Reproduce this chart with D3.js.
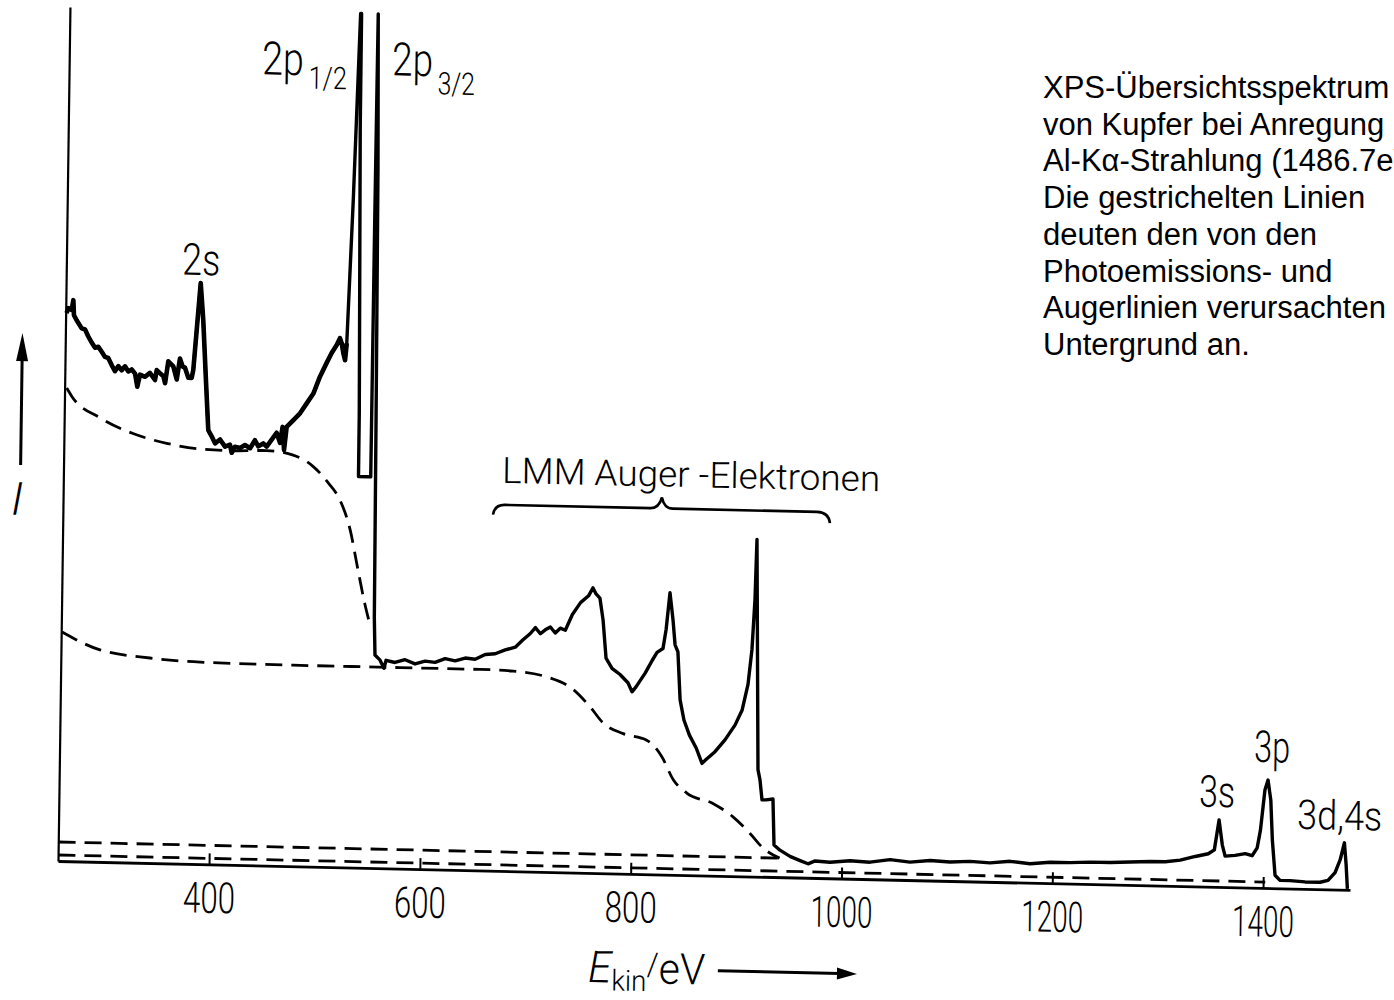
<!DOCTYPE html>
<html>
<head>
<meta charset="utf-8">
<script src="https://cdn.jsdelivr.net/npm/d3@7"></script>
<style>
  body { margin: 0; background: #fff; }
  svg { display: block; }
</style>
</head>
<body>
<svg id="chart" width="1394" height="1000"></svg>
<script>
// [kinetic energy in eV, intensity in arbitrary units]
const spectrum = [
  [257.6, 548], [259.1, 553], [262.4, 551], [263.8, 561], [264.6, 546], [267.2, 541], [272.1, 533],
  [275.3, 532], [278.5, 525], [281.8, 519], [285, 514], [288.1, 515], [291.4, 510], [294.6, 505],
  [297.7, 504], [301, 497], [304.2, 491], [307.4, 496], [310.6, 492], [313.7, 496], [316.9, 491],
  [320.1, 493], [323.3, 489], [325.6, 476], [328, 488], [332.8, 486], [337.4, 490], [342.3, 483],
  [343.8, 493], [346.9, 490], [350.2, 487], [351.9, 480], [354.7, 502], [359.5, 497], [362.9, 484],
  [365.7, 505], [368.4, 497], [370.6, 496], [373.9, 486], [377.1, 486], [378.5, 494], [384.4, 581],
  [387.3, 544], [390.8, 481], [393.5, 434], [396.8, 428], [400.1, 421], [404.8, 425], [409.6, 418],
  [414.3, 420], [416, 412], [419, 418], [423.9, 417], [428.5, 420], [433.4, 417], [437.9, 425],
  [441.2, 419], [445.9, 422], [449.1, 419], [453.8, 426], [458.4, 433], [461.7, 423], [464, 439],
  [465.6, 416], [467.8, 439], [474.1, 446], [480.3, 453], [486.5, 463], [492.7, 473], [498.7, 490],
  [504.9, 504], [509.5, 514], [514.2, 522], [517.2, 529], [518.9, 524], [520.6, 514], [522.3, 507],
  [523.7, 524], [528, 668], [532.5, 854], [533.4, 854], [533.6, 743], [536.5, 455], [536.6, 391],
  [544.7, 391], [548.2, 391], [548.6, 641], [549.2, 854], [551, 700], [552.5, 450], [553.5, 250],
  [554.6, 213], [559.5, 208], [563.3, 200], [565.2, 208], [573.7, 206], [583.2, 209], [592.7, 205],
  [602.2, 208], [611.7, 207], [621.2, 211], [630.7, 209], [640.2, 212], [649.7, 211], [659.2, 216],
  [668.6, 217], [678.1, 221], [687.6, 224], [694.3, 231], [701.7, 238], [706.4, 244], [711.2, 238],
  [715.8, 242], [720.6, 245], [725.3, 239], [730, 244], [734.8, 242], [741.3, 258], [748.9, 270],
  [756.4, 277], [760.5, 285], [763.5, 279], [767.2, 275], [770.5, 253], [773.8, 215], [779.6, 205],
  [787.3, 199], [794.9, 191], [798.9, 182], [802.6, 187], [811.1, 201], [817.7, 214], [822.1, 222],
  [827.7, 226], [830.4, 245], [833.6, 282], [836.8, 255], [839.1, 230], [841.9, 223], [844.6, 175],
  [848.5, 155], [853.9, 140], [860.6, 127], [866.2, 112], [870, 116], [878.4, 124], [887.7, 136],
  [897, 151], [903.5, 166], [908.8, 192], [912.1, 227], [914.3, 277], [915.4, 337], [919.4, 107],
  [921.4, 97], [923.6, 77], [927.4, 77], [934, 78], [935.6, 32], [941.3, 27], [950.9, 21],
  [960.5, 17], [968.1, 14], [974.8, 17], [989, 16], [1007.9, 18], [1026.9, 17], [1045.9, 20],
  [1064.8, 18], [1083.8, 20], [1102.8, 19], [1121.7, 20], [1140.7, 19], [1159.7, 21], [1178.7, 19],
  [1197.7, 21], [1216.6, 21], [1235.6, 22], [1254.6, 22], [1273.6, 23], [1292.6, 24], [1306.9, 24],
  [1321.1, 26], [1335.3, 30], [1347.6, 33], [1353.3, 37], [1357.4, 67], [1360.8, 42], [1363.6, 31],
  [1373.1, 32], [1382.6, 34], [1389.2, 32], [1393.9, 40], [1396.8, 58], [1400.5, 98], [1403.3, 108],
  [1406.2, 88], [1408.2, 48], [1411.2, 13], [1416, 8], [1425.5, 8], [1439.7, 7], [1454, 7],
  [1461.5, 9], [1468.1, 17], [1472.8, 30], [1476.6, 47], [1478.5, 25], [1480, 1]
];

// background under the 2s / 2p photoemission lines
const bgPhoto = [
  [258.7, 473], [263.5, 465], [290.7, 444], [322.2, 429], [354.2, 420], [385.9, 415], [417.2, 414],
  [449.2, 415], [474.4, 411], [493.6, 400], [508, 384], [519.4, 367], [529.3, 338], [537.3, 298],
  [544.5, 263], [549.5, 243]
];

// background under the LMM Auger lines
const bgAuger = [
  [257.5, 229], [293.7, 212], [341.2, 205], [388.8, 202], [483.6, 201], [578.5, 201], [654.4, 201],
  [686, 200], [717.8, 195], [743.1, 183], [759.3, 166], [772.1, 150], [791.1, 140], [813.4, 134],
  [827.9, 118], [839.2, 95], [852.2, 82], [877.5, 72], [896.6, 59], [912.7, 43], [925.5, 28.5],
  [935, 22], [941, 19]
];

const bgStep = [[257, 19], [941, 19]];
const bgFlat = [[257, 6], [1402, 6]];

const xTicks = [400, 600, 800, 1000, 1200, 1400];

const peakNames = ["2s", "2p", "2p", "3s", "3p", "3d,4s"];
const peakSubs = ["", "1/2", "3/2", "", "", ""];
const augerLabel = "LMM Auger -Elektronen";

const caption = [
  "XPS-Übersichtsspektrum",
  "von Kupfer bei Anregung",
  "Al-Kα-Strahlung (1486.7eV)",
  "Die gestrichelten Linien",
  "deuten den von den",
  "Photoemissions- und",
  "Augerlinien verursachten",
  "Untergrund an."
];

const FONT = "Roboto, 'DejaVu Sans', sans-serif";

const svg = d3.select("#chart");
svg.append("rect").attr("width", 1394).attr("height", 1000).attr("fill", "#fff");

const x = d3.scaleLinear().domain([256.7, 1482.5]).range([0, 1292]);
const y = d3.scaleLinear().domain([0, 854]).range([0, -854]);

// the scan is slightly skewed: baseline drops to the right, left axis leans
const plot = svg.append("g").attr("transform", "matrix(1,0.0224,-0.014,1,58,861)");

const line = d3.line().x(d => x(d[0])).y(d => y(d[1]));
const smooth = d3.line().x(d => x(d[0])).y(d => y(d[1])).curve(d3.curveMonotoneX);

// axes
const xAxis = plot.append("g")
  .call(d3.axisBottom(x).tickValues(xTicks).tickFormat(d3.format("d"))
    .tickSize(-11).tickSizeOuter(0).tickPadding(18));
xAxis.select(".domain").attr("stroke", "#000").attr("stroke-width", 2.8);
xAxis.selectAll(".tick line").attr("stroke", "#000").attr("stroke-width", 2);
xAxis.selectAll(".tick text")
  .attr("fill", "#000")
  .style("font-family", FONT)
  .style("font-weight", 300)
  .style("font-size", "43px")
  .attr("textLength", d => String(d).length === 3 ? 52 : 62)
  .attr("lengthAdjust", "spacingAndGlyphs");

const yAxis = plot.append("g")
  .call(d3.axisLeft(y).tickValues([]).tickSizeOuter(0));
yAxis.select(".domain").attr("stroke", "#000").attr("stroke-width", 2.2);

// dashed backgrounds
[bgPhoto, bgAuger].forEach(bg => {
  plot.append("path").datum(bg)
    .attr("d", smooth)
    .attr("fill", "none").attr("stroke", "#000")
    .attr("stroke-width", 2.8).attr("stroke-dasharray", "17,9");
});
[bgStep, bgFlat].forEach(bg => {
  plot.append("path").datum(bg)
    .attr("d", line)
    .attr("fill", "none").attr("stroke", "#000")
    .attr("stroke-width", 2.8).attr("stroke-dasharray", "17,9");
});

// measured spectrum; the noisy low-energy part was recorded with a heavier trace
plot.append("path").datum(spectrum)
  .attr("d", line)
  .attr("fill", "none")
  .attr("stroke", "#000")
  .attr("stroke-width", 3.4)
  .attr("stroke-linejoin", "round");
plot.append("path").datum(spectrum.filter(d => d[0] < 524))
  .attr("d", line)
  .attr("fill", "none")
  .attr("stroke", "#000")
  .attr("stroke-width", 4.6)
  .attr("stroke-linejoin", "round");

// peak labels, anchored in data units
const labelLayout = [
  { E: 384.6, I: 589, anchor: "middle", len: 38, size: 44 },
  { E: 439.7, I: 791, anchor: "start", len: 85, size: 46, subDy: 13 },
  { E: 563.1, I: 793, anchor: "start", len: 83, size: 46, subDy: 18 },
  { E: 1355.3, I: 80, anchor: "middle", len: 36, size: 44 },
  { E: 1406.8, I: 126, anchor: "middle", len: 36, size: 44 },
  { E: 1471.8, I: 60, anchor: "middle", len: 85, size: 41 }
];

peakNames.forEach((name, i) => {
  const L = labelLayout[i];
  const t = plot.append("text")
    .attr("x", x(L.E)).attr("y", y(L.I))
    .attr("text-anchor", L.anchor)
    .attr("textLength", L.len)
    .attr("lengthAdjust", "spacingAndGlyphs")
    .style("font-family", FONT).style("font-weight", 300)
    .style("font-size", L.size + "px");
  t.append("tspan").text(name);
  if (peakSubs[i]) {
    t.append("tspan").attr("dx", 6).attr("dy", L.subDy)
      .style("font-size", "31px").text(peakSubs[i]);
  }
});

// Auger label and brace
plot.append("text")
  .attr("x", x(672.8)).attr("y", y(388))
  .attr("textLength", 378).attr("lengthAdjust", "spacingAndGlyphs")
  .style("font-family", FONT).style("font-weight", 300).style("font-size", "36px")
  .text(augerLabel);

const brace = d3.path();
brace.moveTo(x(664.7), y(356));
brace.quadraticCurveTo(x(666), y(366), x(676), y(366));
brace.lineTo(x(814), y(366));
brace.quadraticCurveTo(x(822), y(366), x(824.7), y(377));
brace.quadraticCurveTo(x(827), y(366), x(835), y(366));
brace.lineTo(x(972), y(366));
brace.quadraticCurveTo(x(983), y(366), x(984.4), y(355));
plot.append("path").attr("d", brace.toString())
  .attr("fill", "none").attr("stroke", "#000").attr("stroke-width", 2.6);

// intensity arrow and symbol
plot.append("line")
  .attr("x1", x(216)).attr("y1", y(395))
  .attr("x2", x(216)).attr("y2", y(505))
  .attr("stroke", "#000").attr("stroke-width", 3);
plot.append("path")
  .attr("d", `M${x(216)},${y(527)}L${x(216) - 6},${y(499)}L${x(216) + 6},${y(499)}Z`)
  .attr("fill", "#000");
plot.append("text")
  .attr("x", x(213.2)).attr("y", y(345))
  .attr("text-anchor", "middle")
  .style("font-family", FONT).style("font-style", "italic").style("font-weight", 300)
  .style("font-size", "46px")
  .text("I");

// x-axis title and arrow
const xt = plot.append("text")
  .attr("x", x(761.1)).attr("y", y(-109))
  .attr("textLength", 117).attr("lengthAdjust", "spacingAndGlyphs")
  .style("font-family", FONT).style("font-weight", 300).style("font-size", "44px");
xt.append("tspan").style("font-style", "italic").text("E");
xt.append("tspan").attr("dy", 8).style("font-size", "29px").text("kin");
xt.append("tspan").attr("dy", -16).style("font-size", "32px").text("/");
xt.append("tspan").attr("dy", 8).style("font-size", "43px").text("eV");

plot.append("line")
  .attr("x1", x(884)).attr("y1", y(-95))
  .attr("x2", x(1000)).attr("y2", y(-95))
  .attr("stroke", "#000").attr("stroke-width", 3);
plot.append("path")
  .attr("d", `M${x(1016)},${y(-95)}L${x(997)},${y(-89)}L${x(997)},${y(-101)}Z`)
  .attr("fill", "#000");

// caption block (typed, not skewed)
svg.append("g")
  .selectAll("text")
  .data(caption)
  .join("text")
  .attr("x", 1043)
  .attr("y", (d, i) => 98 + i * 36.7)
  .style("font-family", "'Liberation Sans', Arial, sans-serif")
  .style("font-size", "31px")
  .attr("fill", "#000")
  .text(d => d);
</script>
</body>
</html>
